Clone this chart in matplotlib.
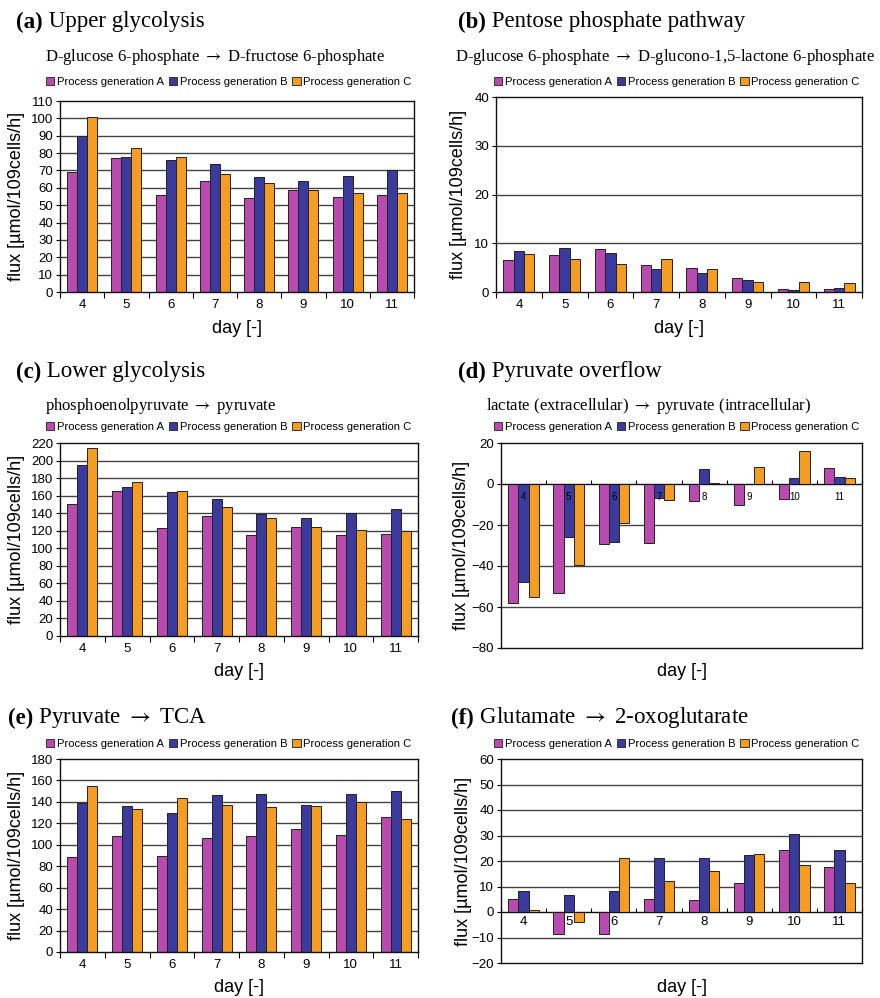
import numpy as np
import matplotlib
matplotlib.use('Agg')
import matplotlib.pyplot as plt
from matplotlib.patches import Patch

plt.rcParams['font.family'] = ['Liberation Sans', 'DejaVu Sans']
plt.rcParams['mathtext.fontset'] = 'stix'

SERIF = ['Liberation Serif', 'DejaVu Serif']
ARROW = r' $\rightarrow$ '

days = ['4', '5', '6', '7', '8', '9', '10', '11']
series_names = ['Process generation A', 'Process generation B', 'Process generation C']
colors = ['#b94aae', '#3b3b9e', '#f59d22']

# (a) upper glycolysis
upper_A = [69, 77, 56, 64, 54, 59, 55, 56]
upper_B = [90, 78, 76, 74, 66, 64, 67, 70]
upper_C = [101, 83, 78, 68, 63, 59, 57, 57]

# (b) pentose phosphate pathway
pentose_A = [6.5, 7.5, 8.8, 5.5, 5.0, 2.9, 0.7, 0.6]
pentose_B = [8.5, 9.0, 7.9, 4.8, 4.0, 2.4, 0.4, 0.9]
pentose_C = [7.8, 6.7, 5.7, 6.8, 4.8, 2.1, 2.1, 1.8]

# (c) lower glycolysis
lower_A = [151, 165, 123, 137, 115, 124, 115, 116]
lower_B = [195, 170, 164, 156, 139, 135, 140, 145]
lower_C = [214, 176, 165, 147, 135, 124, 121, 120]

# (d) pyruvate overflow
overflow_A = [-58, -53, -29.5, -29, -8.5, -10, -7.5, 8]
overflow_B = [-48, -26, -28.5, -7, 7.5, 0.2, 3, 3.3]
overflow_C = [-55, -39.5, -19, -8, 0.3, 8.5, 16, 3]

# (e) pyruvate -> TCA
tca_A = [89, 108, 90, 106, 108, 115, 109, 126]
tca_B = [139, 136, 130, 146, 147, 137, 147, 150]
tca_C = [155, 133, 144, 137, 135, 136, 140, 124]

# (f) glutamate -> 2-oxoglutarate
glu_A = [5.2, -8.5, -8.5, 5.2, 4.7, 11.5, 24.2, 17.7]
glu_B = [8.3, 6.8, 8.3, 21.3, 21.3, 22.2, 30.7, 24.3]
glu_C = [0.8, -4.0, 21.0, 12.0, 16.2, 22.8, 18.5, 11.5]

W, H = 880, 998
fig = plt.figure(figsize=(W / 100, H / 100), dpi=100)


def px_axes(left, top, right, bottom):
    return fig.add_axes([left / W, 1 - bottom / H, (right - left) / W, (bottom - top) / H])


def heading(x, y, tag, text, sub=None, sub_x=None, sub_y=None):
    t = fig.text(x / W, 1 - y / H, tag, fontsize=16.5, fontweight='bold', family=SERIF, va='center')
    plt.annotate(' ' + text, xy=(1, 0.5), xycoords=t, fontsize=16.5, family=SERIF, va='center')
    if sub:
        fig.text(sub_x / W, 1 - sub_y / H, sub, fontsize=12, family=SERIF, va='center')


def legend(x, y):
    handles = [Patch(facecolor=c, edgecolor='#333333', lw=0.7) for c in colors]
    fig.legend(handles, series_names, loc='center left', bbox_to_anchor=(x / W, 1 - y / H),
               ncol=3, frameon=False, fontsize=8.1, handlelength=0.75, handleheight=0.75,
               handletextpad=0.25, columnspacing=0.4, borderaxespad=0, borderpad=0)


def panel(ax, a, b, c, ymin, ymax, step, ylab_px, xlab_px, ax_px, zero_labels=None):
    x = np.arange(len(days))
    w = 0.225
    for k, vals in enumerate([a, b, c]):
        ax.bar(x + (k - 1) * w, vals, w, color=colors[k], edgecolor='#222222', lw=0.7, zorder=2)
    ax.set_xlim(-0.5, len(days) - 0.5)
    ax.set_ylim(ymin, ymax)
    ax.set_yticks(np.arange(ymin, ymax + step / 2, step))
    ax.tick_params(axis='y', labelsize=9.5, length=3, direction='out', pad=2)
    for v in np.arange(ymin + step, ymax, step):
        ax.axhline(v, color='#444444', lw=1, zorder=1)
    for s in ax.spines.values():
        s.set_color('#111111')
        s.set_linewidth(1)
    left, top, right, bottom = ax_px
    if zero_labels is None:
        ax.set_xticks(np.arange(-0.5, len(days), 1))
        ax.set_xticklabels([])
        ax.set_xticks(x, minor=True)
        ax.set_xticklabels(days, minor=True, fontsize=9.5)
        ax.tick_params(axis='x', which='major', length=4, direction='out')
        ax.tick_params(axis='x', which='minor', length=0, pad=5)
    else:
        # category labels sit on the zero line, inside the plot area
        ax.tick_params(axis='x', which='both', bottom=False, labelbottom=False)
        sec = ax.secondary_xaxis(0, transform=ax.transData)
        sec.set_zorder(4)
        sec.set_xticks(np.arange(-0.5, len(days), 1))
        sec.set_xticklabels([])
        sec.set_xticks(x, minor=True)
        sec.set_xticklabels(days, minor=True, fontsize=zero_labels[0])
        sec.tick_params(axis='x', which='major', length=3, direction='in')
        sec.tick_params(axis='x', which='minor', length=0, pad=zero_labels[1])
        sec.spines['bottom'].set_color('#111111')
    ax.set_ylabel('flux [µmol/109cells/h]', fontsize=13)
    ax.yaxis.set_label_coords((ylab_px - left) / (right - left), 0.5)
    ax.yaxis.label.set_va('center')
    ax.set_xlabel('day [-]', fontsize=13)
    ax.xaxis.set_label_coords(0.5, -(xlab_px - bottom) / (bottom - top))
    ax.xaxis.label.set_va('center')


# (a)
pa = (60, 101, 414, 292)
ax = px_axes(*pa)
panel(ax, upper_A, upper_B, upper_C, 0, 110, 10, 17, 328, pa)
heading(16, 22, '(a)', 'Upper glycolysis', 'D-glucose 6-phosphate' + ARROW + 'D-fructose 6-phosphate', 45, 57)
legend(46, 82)

# (b)
pb = (496, 97, 862, 292)
ax = px_axes(*pb)
panel(ax, pentose_A, pentose_B, pentose_C, 0, 40, 10, 458, 328, pb)
heading(458, 22, '(b)', 'Pentose phosphate pathway',
        'D-glucose 6-phosphate' + ARROW + 'D-glucono-1,5-lactone 6-phosphate', 455, 57)
legend(494, 82)

# (c)
pc = (60, 443, 418, 636)
ax = px_axes(*pc)
panel(ax, lower_A, lower_B, lower_C, 0, 220, 20, 17, 672, pc)
heading(16, 372, '(c)', 'Lower glycolysis', 'phosphoenolpyruvate' + ARROW + 'pyruvate', 45, 406)
legend(46, 427)

# (d)
pd_ = (501, 443, 862, 648)
ax = px_axes(*pd_)
panel(ax, overflow_A, overflow_B, overflow_C, -80, 20, 20, 461, 672, pd_, zero_labels=(7, 6))
heading(458, 372, '(d)', 'Pyruvate overflow',
        'lactate (extracellular)' + ARROW + 'pyruvate (intracellular)', 486, 406)
legend(494, 427)

# (e)
pe = (60, 759, 418, 952)
ax = px_axes(*pe)
panel(ax, tca_A, tca_B, tca_C, 0, 180, 20, 17, 987, pe)
heading(8, 718, '(e)', 'Pyruvate' + ARROW + 'TCA')
legend(46, 744)

# (f)
pf = (501, 759, 862, 963)
ax = px_axes(*pf)
panel(ax, glu_A, glu_B, glu_C, -20, 60, 10, 463, 987, pf, zero_labels=(9.5, 3))
heading(451, 718, '(f)', 'Glutamate' + ARROW + '2-oxoglutarate')
legend(494, 744)

fig.savefig('out.png', dpi=100)
